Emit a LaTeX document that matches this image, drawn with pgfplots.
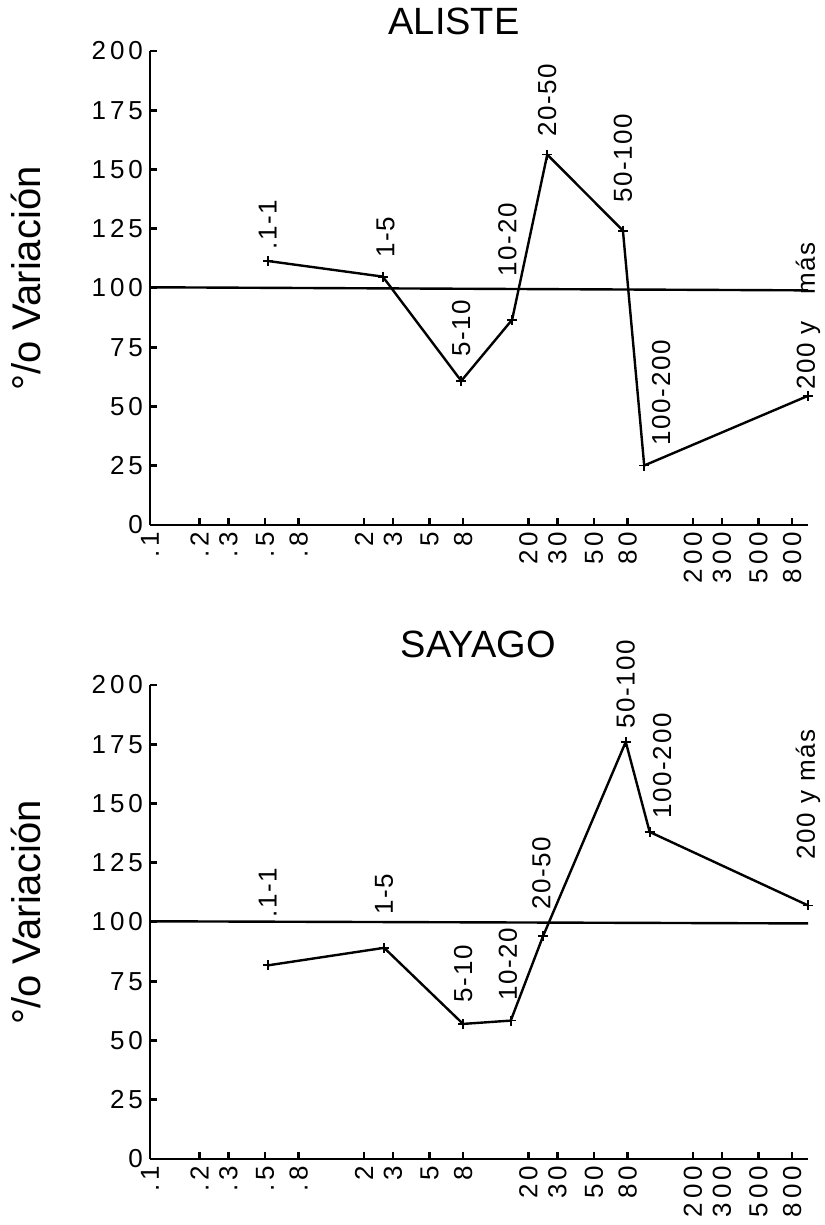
\documentclass[border=0pt]{standalone}
\usepackage{fontspec}
\setmainfont{Liberation Sans}
\newfontfamily\tickfont[LetterSpace=15]{Liberation Sans}
\newfontfamily\lblfont[LetterSpace=6]{Liberation Sans}
\usepackage{pgfplots}
\pgfplotsset{compat=1.18}
\pgfplotsset{
  every axis/.append style={
    xmode=log, scale only axis, width=329pt, height=237pt,
    xmin=0.1, xmax=1000, ymin=0, ymax=200,
    axis lines*=left,
    axis line style={line width=1.4pt},
    xtick={0.1,0.2,0.3,0.5,0.8,2,3,5,8,20,30,50,80,200,300,500,800},
    xticklabels={.1,.2,.3,.5,.8,2,3,5,8,20,30,50,80,200,300,500,800},
    xminorticks=false,
    ytick={0,25,50,75,100,125,150,175,200},
    yticklabels={0,25,50,75,100,125,150,175,200},
    xticklabel style={rotate=90, anchor=east, font=\fontsize{13}{13}\tickfont},
    yticklabel style={font=\fontsize{13}{13}\tickfont},
    /pgf/number format/assume math mode=true,
    tick style={line width=1.3pt, black},
    major tick length=3.5pt,
    tick align=inside,
    clip=false,
    ylabel={°/o Variación},
    ylabel style={rotate=0, at={(axis description cs:-0.188,0.52)}, anchor=center, font=\fontsize{20}{20}\selectfont},
  },
}
\tikzset{
  lbl/.style={rotate=90, anchor=west, inner sep=0pt, font=\fontsize{13}{13}\lblfont},
  serline/.style={black, line width=1.2pt, mark=+, mark size=2.5pt, mark options={line width=0.9pt}},
  hline/.style={black, line width=1.2pt},
}
\begin{document}
\begin{tikzpicture}
\useasboundingbox (-75pt,-350pt) rectangle (337pt,262.5pt);
% ---------------- ALISTE ----------------
\begin{axis}[at={(0pt,0pt)}, anchor=south west]
\addplot[hline] coordinates {(0.1,100.3) (1000,99)};
\addplot[serline] coordinates {
(0.52,111.4) (2.6,104.8) (7.8,60.8) (15.9,86.6) (26,156.3) (75,124.2) (101,25.1) (1000,54.5)};
\node[lbl] at (axis cs:0.52,116) {.1-1};
\node[lbl] at (axis cs:2.7,112.5) {1-5};
\node[lbl] at (axis cs:7.8,71) {5-10};
\node[lbl] at (axis cs:14.9,104.8) {10-20};
\node[lbl] at (axis cs:26,163.8) {20-50};
\node[lbl] at (axis cs:75,135.7) {50-100};
\node[lbl] at (axis cs:128,33.5) {100-200};
\node[lbl] at (axis cs:1000,57) {200 y\hspace{9pt} más};
\node[anchor=base, font=\fontsize{19}{19}\selectfont] at (rel axis cs:0.462,1.034) {ALISTE};
\end{axis}
% ---------------- SAYAGO ----------------
\begin{axis}[at={(0pt,-317pt)}, anchor=south west]
\addplot[hline] coordinates {(0.1,100.3) (1000,99.4)};
\addplot[serline] coordinates {
(0.52,81.7) (2.65,89.1) (8,57) (15.6,58.4) (24.5,94) (78,176) (109,138) (1000,107)};
\node[lbl] at (axis cs:0.52,101.7) {.1-1};
\node[lbl] at (axis cs:2.65,103) {1-5};
\node[lbl] at (axis cs:8,66) {5-10};
\node[lbl] at (axis cs:15,66.8) {10-20};
\node[lbl] at (axis cs:24,105) {20-50};
\node[lbl] at (axis cs:78,181.4) {50-100};
\node[lbl] at (axis cs:130,143.6) {100-200};
\node[lbl] at (axis cs:1000,126.4) {200 y más};
\node[anchor=base, font=\fontsize{19}{19}\selectfont] at (rel axis cs:0.499,1.057) {SAYAGO};
\end{axis}
\end{tikzpicture}
\end{document}
